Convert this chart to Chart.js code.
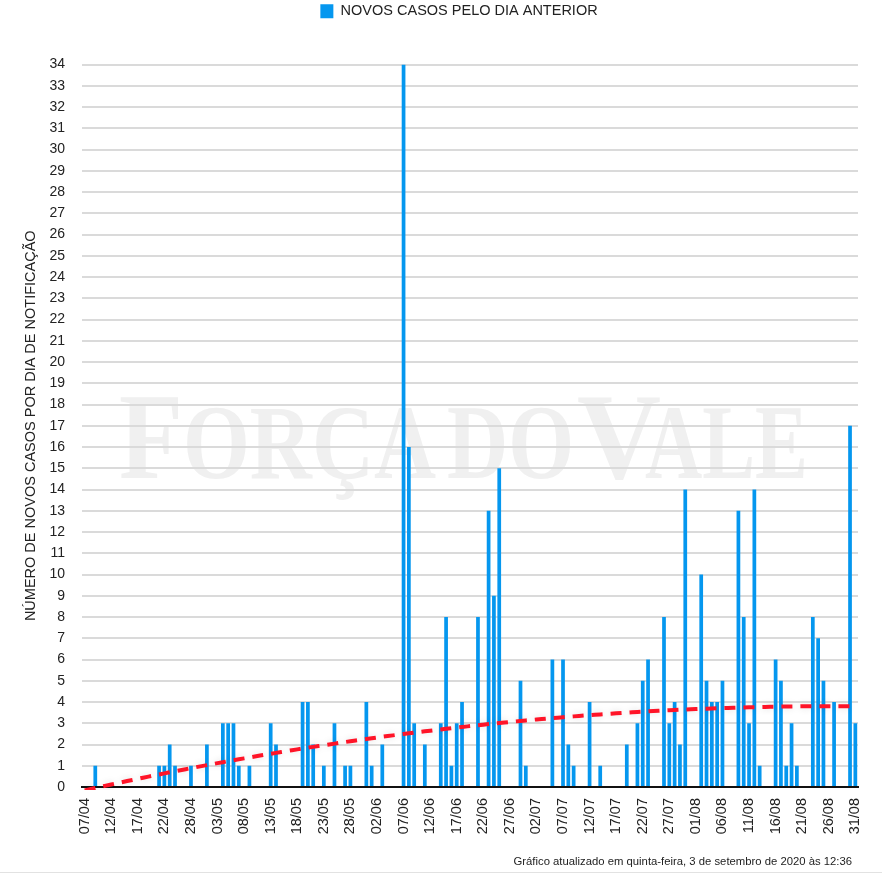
<!DOCTYPE html>
<html lang="pt-BR">
<head>
<meta charset="utf-8">
<title>Novos casos pelo dia anterior</title>
<script src="https://cdn.jsdelivr.net/npm/chart.js@4.4.1/dist/chart.umd.min.js"></script>
<style>
    html, body { margin: 0; padding: 0; background: #fff; }
    #wrap { width: 882px; height: 874px; }
</style>
</head>
<body>
<div id="wrap"><canvas id="casosChart" width="882" height="874"></canvas></div>
<script>
// dias de notificação (25/04 não aparece na série)
const dias = [
    "07/04", "08/04", "09/04", "10/04", "11/04", "12/04", "13/04", "14/04", "15/04", "16/04",
    "17/04", "18/04", "19/04", "20/04", "21/04", "22/04", "23/04", "24/04", "26/04", "27/04",
    "28/04", "29/04", "30/04",
    "01/05", "02/05", "03/05", "04/05", "05/05", "06/05", "07/05", "08/05", "09/05", "10/05",
    "11/05", "12/05", "13/05", "14/05", "15/05", "16/05", "17/05", "18/05", "19/05", "20/05",
    "21/05", "22/05", "23/05", "24/05", "25/05", "26/05", "27/05", "28/05", "29/05", "30/05", "31/05",
    "01/06", "02/06", "03/06", "04/06", "05/06", "06/06", "07/06", "08/06", "09/06", "10/06",
    "11/06", "12/06", "13/06", "14/06", "15/06", "16/06", "17/06", "18/06", "19/06", "20/06",
    "21/06", "22/06", "23/06", "24/06", "25/06", "26/06", "27/06", "28/06", "29/06", "30/06",
    "01/07", "02/07", "03/07", "04/07", "05/07", "06/07", "07/07", "08/07", "09/07", "10/07",
    "11/07", "12/07", "13/07", "14/07", "15/07", "16/07", "17/07", "18/07", "19/07", "20/07",
    "21/07", "22/07", "23/07", "24/07", "25/07", "26/07", "27/07", "28/07", "29/07", "30/07", "31/07",
    "01/08", "02/08", "03/08", "04/08", "05/08", "06/08", "07/08", "08/08", "09/08", "10/08",
    "11/08", "12/08", "13/08", "14/08", "15/08", "16/08", "17/08", "18/08", "19/08", "20/08",
    "21/08", "22/08", "23/08", "24/08", "25/08", "26/08", "27/08", "28/08", "29/08", "30/08", "31/08"
];

const novosCasos = [
    0, 0, 1, 0, 0, 0, 0, 0, 0, 0,
    0, 0, 0, 0, 1, 1, 2, 1, 0, 0,
    1, 0, 0, 2, 0, 0, 3, 3, 3, 1,
    0, 1, 0, 0, 0, 3, 2, 0, 0, 0,
    0, 4, 4, 2, 0, 1, 0, 3, 0, 1,
    1, 0, 0, 4, 1, 0, 2, 0, 0, 0,
    34, 16, 3, 0, 2, 0, 0, 3, 8, 1,
    3, 4, 0, 0, 8, 0, 13, 9, 15, 0,
    0, 0, 5, 1, 0, 0, 0, 0, 6, 0,
    6, 2, 1, 0, 0, 4, 0, 1, 0, 0,
    0, 0, 2, 0, 3, 5, 6, 0, 0, 8,
    3, 4, 2, 14, 0, 0, 10, 5, 4, 4,
    5, 0, 0, 13, 8, 3, 14, 1, 0, 0,
    6, 5, 1, 3, 1, 0, 0, 8, 7, 5,
    0, 4, 0, 0, 17, 3
];

const yMax = 34;
const legendaSerie = "NOVOS CASOS PELO DIA ANTERIOR";
const tituloEixoY = "NÚMERO DE NOVOS CASOS POR DIA DE NOTIFICAÇÃO";
const rodape = "Gráfico atualizado em quinta-feira, 3 de setembro de 2020 às 12:36";

const FONT = '"Liberation Sans", Arial, Helvetica, sans-serif';

// linha de tendência polinomial (grau 2) calculada a partir dos casos
function tendenciaPolinomial(values) {
    const s = [0, 0, 0, 0, 0];
    const t = [0, 0, 0];
    values.forEach((v, i) => {
        let p = 1;
        for (let k = 0; k < 5; k++) {
            s[k] += p;
            if (k < 3) t[k] += v * p;
            p *= i;
        }
    });
    const m = [
        [s[0], s[1], s[2], t[0]],
        [s[1], s[2], s[3], t[1]],
        [s[2], s[3], s[4], t[2]],
    ];
    for (let col = 0; col < 3; col++) {
        for (let row = col + 1; row < 3; row++) {
            const f = m[row][col] / m[col][col];
            for (let k = col; k < 4; k++) m[row][k] -= f * m[col][k];
        }
    }
    const c = m[2][3] / m[2][2];
    const b = (m[1][3] - m[1][2] * c) / m[1][1];
    const a = (m[0][3] - m[0][1] * b - m[0][2] * c) / m[0][0];
    return values.map((_, i) => a + b * i + c * i * i);
}

const tendencia = tendenciaPolinomial(novosCasos);

// marca d'água "FORÇA DO VALE", atrás da grade
const watermarkPlugin = {
    id: "watermark",
    beforeDraw(chart) {
        const ctx = chart.ctx;
        const partes = [
            ["F", 119, 183, 122],
            ["ORÇA", 183, 436, 106],
            ["DO", 447, 574, 106],
            ["V", 577, 661, 122],
            ["ALE", 645, 808, 106],
        ];
        ctx.save();
        ctx.fillStyle = "#f0f0f0";
        ctx.textBaseline = "alphabetic";
        ctx.textAlign = "left";
        partes.forEach(([txt, x0, x1, size]) => {
            ctx.font = `bold ${size}px "Liberation Serif", "Times New Roman", serif`;
            const w = ctx.measureText(txt).width;
            ctx.save();
            ctx.translate(x0, 478);
            ctx.scale((x1 - x0) / w, 1);
            ctx.fillText(txt, 0, 0);
            ctx.restore();
        });
        ctx.restore();
    },
    afterDraw(chart) {
        const ctx = chart.ctx;
        ctx.save();
        ctx.font = `11.3px ${FONT}`;
        ctx.fillStyle = "#222";
        ctx.textAlign = "right";
        ctx.textBaseline = "alphabetic";
        ctx.fillText(rodape, 852, 865);
        ctx.strokeStyle = "#e2e2e2";
        ctx.lineWidth = 1;
        ctx.beginPath();
        ctx.moveTo(0, 872.5);
        ctx.lineTo(882, 872.5);
        ctx.stroke();
        ctx.restore();
    },
};

// leve sombra na linha de tendência
const shadowPlugin = {
    id: "trendShadow",
    beforeDatasetDraw(chart, args) {
        if (args.index !== 1) return;
        chart.ctx.save();
        chart.ctx.shadowColor = "rgba(0,0,0,0.13)";
        chart.ctx.shadowBlur = 7;
    },
    afterDatasetDraw(chart, args) {
        if (args.index !== 1) return;
        chart.ctx.restore();
    },
};

// posiciona a legenda no topo, deslocada como no original
const legendPosPlugin = {
    id: "legendPos",
    afterLayout(chart) {
        const lg = chart.legend;
        if (!lg) return;
        lg.top -= 36;
        lg.bottom -= 36;
        lg.left += 30;
        lg.right += 30;
    },
};

new Chart(document.getElementById("casosChart"), {
    data: {
        labels: dias,
        datasets: [
            {
                type: "bar",
                label: legendaSerie,
                data: novosCasos,
                backgroundColor: "#0597ef",
                borderWidth: 0,
                categoryPercentage: 1,
                barPercentage: 0.7,
                order: 2,
            },
            {
                type: "line",
                label: "Tendência",
                data: tendencia,
                borderColor: "#ff1428",
                borderWidth: 4,
                borderDash: [11, 8],
                pointRadius: 0,
                fill: false,
                tension: 0,
                clip: { left: 4, top: 4, right: 4, bottom: 3 },
                order: 1,
            },
        ],
    },
    options: {
        responsive: false,
        animation: false,
        devicePixelRatio: 1,
        layout: {
            padding: { left: 0, right: 24, top: 37, bottom: 29 },
        },
        plugins: {
            legend: {
                position: "top",
                labels: {
                    filter: (item) => item.datasetIndex === 0,
                    boxWidth: 13,
                    boxHeight: 14,
                    padding: 3,
                    color: "#222",
                    font: { family: FONT, size: 14.5 },
                },
            },
            tooltip: { enabled: false },
        },
        scales: {
            x: {
                grid: { display: false },
                border: { display: true, color: "#111", width: 2 },
                ticks: {
                    autoSkip: false,
                    minRotation: 90,
                    maxRotation: 90,
                    padding: 3,
                    color: "#222",
                    font: { family: FONT, size: 14.5 },
                    callback: (value, index) => (index % 5 === 0 ? dias[index] : null),
                },
                afterFit: (scale) => {
                    scale.height = 58;
                },
            },
            y: {
                min: 0,
                max: yMax,
                border: { display: false },
                grid: {
                    drawTicks: false,
                    lineWidth: 2,
                    color: (ctx) => (ctx.tick && ctx.tick.value === 0 ? "rgba(0,0,0,0)" : "#dadada"),
                },
                ticks: {
                    stepSize: 1,
                    autoSkip: false,
                    padding: 17,
                    color: "#222",
                    font: { family: FONT, size: 14 },
                },
                title: {
                    display: true,
                    text: tituloEixoY,
                    color: "#222",
                    font: { family: FONT, size: 14.5 },
                    padding: { top: 22, bottom: 0 },
                },
                afterFit: (scale) => {
                    scale.width = 82;
                },
            },
        },
    },
    plugins: [watermarkPlugin, shadowPlugin, legendPosPlugin],
});
</script>
</body>
</html>
